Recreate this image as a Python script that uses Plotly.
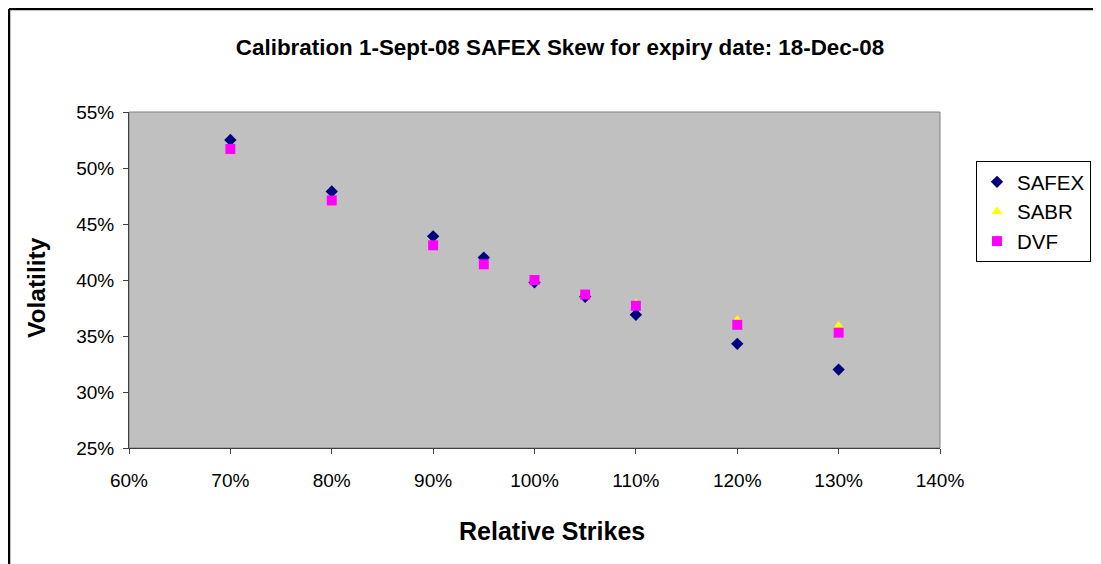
import plotly.graph_objects as go

strikes = [0.70, 0.80, 0.90, 0.95, 1.00, 1.05, 1.10, 1.20, 1.30]
safex = [0.525, 0.479, 0.439, 0.420, 0.398, 0.385, 0.369, 0.343, 0.320]
sabr = [0.516, 0.469, 0.430, 0.413, 0.401, 0.386, 0.379, 0.364, 0.359]
dvf = [0.517, 0.471, 0.431, 0.414, 0.400, 0.387, 0.377, 0.360, 0.353]

x_ticks = [0.6, 0.7, 0.8, 0.9, 1.0, 1.1, 1.2, 1.3, 1.4]
x_tick_text = ["60%", "70%", "80%", "90%", "100%", "110%", "120%", "130%", "140%"]
y_ticks = [0.25, 0.30, 0.35, 0.40, 0.45, 0.50, 0.55]
y_tick_text = ["25%", "30%", "35%", "40%", "45%", "50%", "55%"]

FONT = "Liberation Sans, Arial, sans-serif"

# page offset introduced by the default body margin of the html page
OFF = 8
W, H = 1101 - OFF, 564 - OFF
PL, PR, PT, PB = 129, 940, 112, 448  # plot area in page pixels


def px(xp):
    return (xp - PL) / (PR - PL)


def py(yp):
    return (PB - yp) / (PB - PT)


fig = go.Figure()
fig.add_trace(go.Scatter(x=strikes, y=safex, mode="markers", name="SAFEX",
                         marker=dict(symbol="diamond", size=9.5, color="#000080")))
fig.add_trace(go.Scatter(x=strikes, y=sabr, mode="markers", name="SABR",
                         marker=dict(symbol="triangle-up", size=10, color="#FFFF00")))
fig.add_trace(go.Scatter(x=strikes, y=dvf, mode="markers", name="DVF",
                         marker=dict(symbol="square", size=10, color="#FF00FF")))

axis_common = dict(showgrid=False, zeroline=False, ticks="outside", ticklen=5,
                   tickcolor="#404040", showline=True, linecolor="#404040",
                   linewidth=1, tickfont=dict(family=FONT, size=19, color="black"))

fig.update_xaxes(range=[0.6, 1.4], tickvals=x_ticks, ticktext=x_tick_text,
                 ticklabelstandoff=10, **axis_common)
fig.update_yaxes(range=[0.25, 0.55], tickvals=y_ticks, ticktext=y_tick_text,
                 ticklabelstandoff=5, **axis_common)

fig.update_layout(
    width=W, height=H,
    margin=dict(l=PL - OFF, r=W - (PR - OFF), t=PT - OFF, b=H - (PB - OFF),
                autoexpand=False),
    plot_bgcolor="#C0C0C0", paper_bgcolor="white",
    font=dict(family=FONT, color="black"),
    title=dict(text="<b>Calibration 1-Sept-08 SAFEX Skew for expiry date: 18-Dec-08</b>",
               x=(560 - OFF) / W, xanchor="center", y=1 - (47 - OFF) / H, yanchor="middle",
               font=dict(family=FONT, size=22.4, color="black")),
    showlegend=True,
    legend=dict(x=px(976), xanchor="left", y=py(161), yanchor="top",
                bgcolor="white", bordercolor="black", borderwidth=1,
                font=dict(family=FONT, size=20.5, color="black"),
                itemwidth=30, tracegroupgap=0),
    shapes=[
        # plot area frame (top/right)
        dict(type="rect", xref="paper", yref="paper", x0=0, x1=1, y0=0, y1=1,
             line=dict(color="#808080", width=1), fillcolor="rgba(0,0,0,0)", layer="below"),
        # outer chart border (left and top)
        dict(type="line", xref="paper", yref="paper", x0=px(OFF + 1), x1=px(OFF + 1),
             y0=-1, y1=py(OFF + 1), line=dict(color="black", width=2.5)),
        dict(type="line", xref="paper", yref="paper", x0=px(OFF + 1), x1=2,
             y0=py(OFF + 1), y1=py(OFF + 1), line=dict(color="black", width=2.5)),
    ],
    annotations=[
        dict(text="<b>Volatility</b>", xref="paper", yref="paper",
             x=px(36), y=py(288), xanchor="center", yanchor="middle",
             textangle=-90, showarrow=False, font=dict(family=FONT, size=24.5, color="black")),
        dict(text="<b>Relative Strikes</b>", xref="paper", yref="paper",
             x=px(552), y=py(531), xanchor="center", yanchor="middle",
             showarrow=False, font=dict(family=FONT, size=25, color="black")),
    ],
)

fig.write_html("out.html")
